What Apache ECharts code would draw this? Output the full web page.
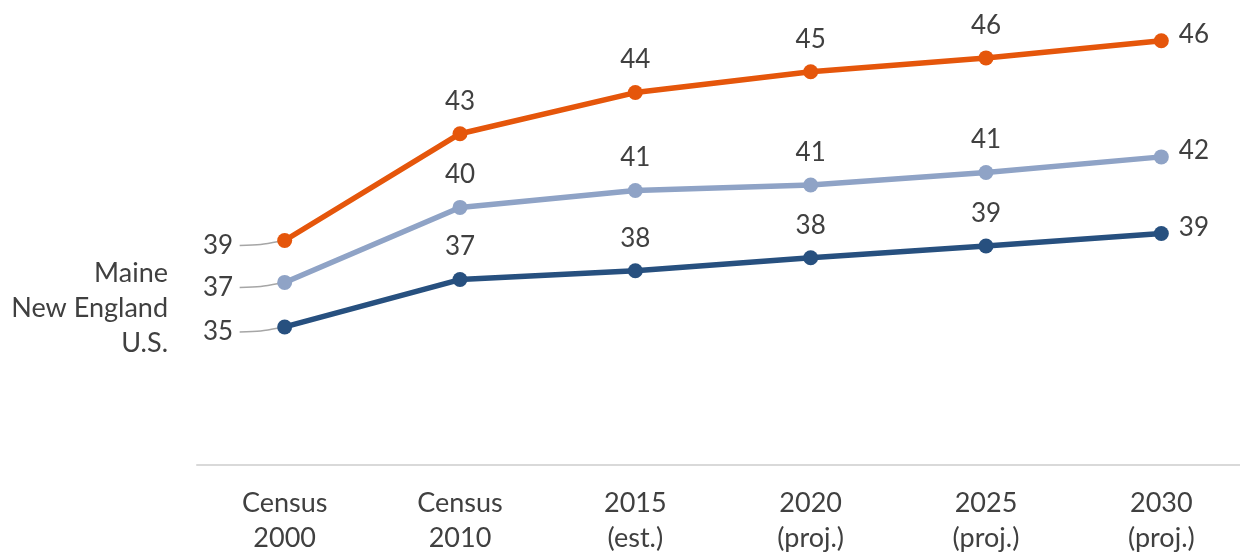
<!DOCTYPE html>
<html>
<head>
<meta charset="utf-8">
<title>Median age</title>
<script src="https://cdn.jsdelivr.net/npm/echarts@6/dist/echarts.min.js"></script>
<style>
  html, body { margin: 0; padding: 0; background: #fff; overflow: hidden; }
  #chart { width: 1250px; height: 556px; }
</style>
</head>
<body>
<div id="chart"></div>
<script>
const categories = ['Census\n2000', 'Census\n2010', '2015\n(est.)', '2020\n(proj.)', '2025\n(proj.)', '2030\n(proj.)']
const maine = [38.75, 42.85, 44.43, 45.23, 45.76, 46.42]
const newEngland = [37.14, 40.02, 40.67, 40.88, 41.36, 41.96]
const us = [35.43, 37.25, 37.59, 38.09, 38.54, 39.02]
const seriesNames = ['Maine', 'New England', 'U.S.']
const colors = ['#e5560b', '#8fa3c6', '#27507f']

const textColor = '#404040'
const font = 'Lato'

function buildData(values) {
  return values.map(function(v, i) {
    if (i === 0) {
      return { value: v, label: { position: 'left', distance: 44, offset: [0, 5] } }
    }
    if (i === values.length - 1) {
      return { value: v, label: { position: 'right', distance: 10, offset: [0, -6] } }
    }
    return v
  })
}

function makeSeries(name, values, color) {
  return {
    name: name,
    type: 'line',
    z: 3,
    data: buildData(values),
    symbol: 'circle',
    symbolSize: 15,
    itemStyle: { color: color },
    lineStyle: { color: color, width: 5.5 },
    label: {
      show: true,
      position: 'top',
      distance: 12,
      fontSize: 26,
      fontFamily: font,
      color: textColor,
      formatter: function(p) { return Math.round(p.value) }
    },
    emphasis: { disabled: true }
  }
}

// gray leader lines from the first labels to the first points
const leaderSeries = {
  type: 'custom',
  z: 1,
  silent: true,
  data: [[0, maine[0]], [0, newEngland[0]], [0, us[0]]],
  renderItem: function(params, api) {
    const pt = api.coord([api.value(0), api.value(1)])
    return {
      type: 'polyline',
      shape: {
        points: [[pt[0] - 45, pt[1] + 5], [pt[0] - 24, pt[1] + 4], [pt[0] - 6, pt[1] + 1]],
        smooth: 0.3
      },
      style: { stroke: '#a6a6a6', lineWidth: 1.5, fill: null }
    }
  }
}

const legendTexts = seriesNames.map(function(name, i) {
  return {
    type: 'text',
    right: 1082,
    top: 260 + i * 35,
    style: { text: name, fontSize: 27, fontFamily: font, fill: textColor }
  }
})

const myChart = echarts.init(document.getElementById('chart'))
const option = {
  animation: false,
  grid: { left: 197, right: 1, top: 4, bottom: 86 },
  xAxis: {
    type: 'category',
    data: categories,
    boundaryGap: true,
    axisLine: { lineStyle: { color: '#d9d9d9', width: 2 } },
    axisTick: { show: false },
    axisLabel: { margin: 21, fontSize: 27, lineHeight: 35, fontFamily: font, color: textColor }
  },
  yAxis: {
    type: 'value',
    min: 30.13,
    max: 47.83,
    show: false,
    splitLine: { show: false }
  },
  graphic: legendTexts,
  series: [
    leaderSeries,
    makeSeries(seriesNames[0], maine, colors[0]),
    makeSeries(seriesNames[1], newEngland, colors[1]),
    makeSeries(seriesNames[2], us, colors[2])
  ]
}
myChart.setOption(option)
</script>
</body>
</html>
